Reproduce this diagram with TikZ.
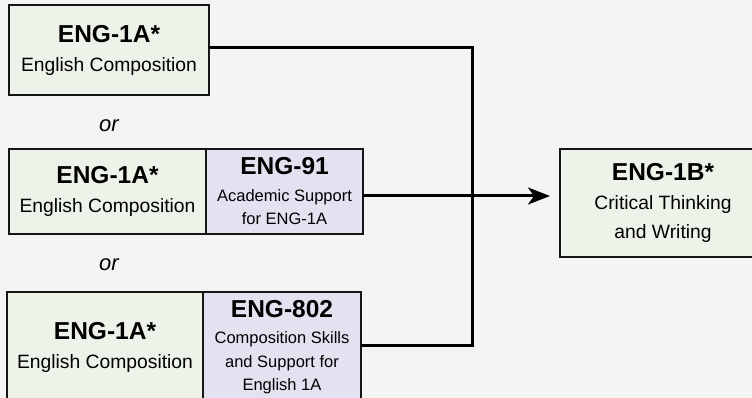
\documentclass[tikz,border=0pt]{standalone}
\usepackage{fontspec}
\setmainfont{Liberation Sans}
\usetikzlibrary{arrows.meta}
\definecolor{bgc}{RGB}{244,244,244}
\definecolor{greenfill}{RGB}{238,243,234}
\definecolor{purplefill}{RGB}{228,226,240}
\definecolor{edgec}{RGB}{22,22,22}
\tikzset{
  greenbox/.style={draw=edgec, line width=1.8pt, fill=greenfill, inner sep=0pt, outer sep=0pt,
    align=center, font=\fontsize{19.3}{29}\selectfont},
  purplebox/.style={draw=edgec, line width=1.8pt, fill=purplefill, inner sep=0pt, outer sep=0pt,
    align=center, font=\fontsize{16.5}{23.5}\selectfont},
  ortext/.style={font=\fontsize{22}{24}\selectfont\itshape, anchor=base, inner sep=0pt},
  conn/.style={draw=black, line width=3pt, line join=miter},
  arrowconn/.style={conn, -{Stealth[length=22pt, width=17pt, inset=6pt]}}
}
\newcommand{\ttl}[1]{{\fontsize{24.5}{29}\selectfont\bfseries #1}}
\begin{document}
\begin{tikzpicture}[x=1pt, y=-1pt]
\useasboundingbox (0,0) rectangle (752,398);
\fill[bgc] (0,0) rectangle (752,398);
\begin{scope}
\clip (0,0) rectangle (752,398);
% boxes
\node[greenbox, minimum width=200pt, minimum height=90pt] (A1) at (109,50)
  {\ttl{ENG-1A*}\\English Composition};
\node[greenbox, minimum width=197pt, minimum height=85pt] (A2) at (107.5,191.5)
  {\ttl{ENG-1A*}\\English Composition};
\node[purplebox, minimum width=157pt, minimum height=85pt] (B2) at (284.5,191.5)
  {\ttl{ENG-91}\\[3pt]Academic Support\\for ENG-1A};
\node[greenbox, minimum width=196pt, minimum height=110pt] (A3) at (105,347)
  {\ttl{ENG-1A*}\\English Composition};
\node[purplebox, minimum width=158pt, minimum height=110pt] (B3) at (282,347)
  {\ttl{ENG-802}\\[3pt]Composition Skills\\and Support for\\English 1A};
\node[greenbox, minimum width=206pt, minimum height=108pt] (C) at (663,203)
  {\ttl{ENG-1B*}\\Critical Thinking\\and Writing};
% or labels
\node[ortext] (or1) at (109,132) {or};
\node[ortext] (or2) at (109,270) {or};
% connectors
\coordinate (a1o) at (A1.east |- 0,48);
\coordinate (b2o) at (B2.east |- 0,196);
\coordinate (b3o) at (B3.east |- 0,345);
\coordinate (j) at (472,196);
\draw[conn] (a1o) -| (j) |- (b3o);
\draw[arrowconn, shorten >=10pt] (b2o) -- (C.west |- b2o);
\end{scope}
\end{tikzpicture}
\end{document}
